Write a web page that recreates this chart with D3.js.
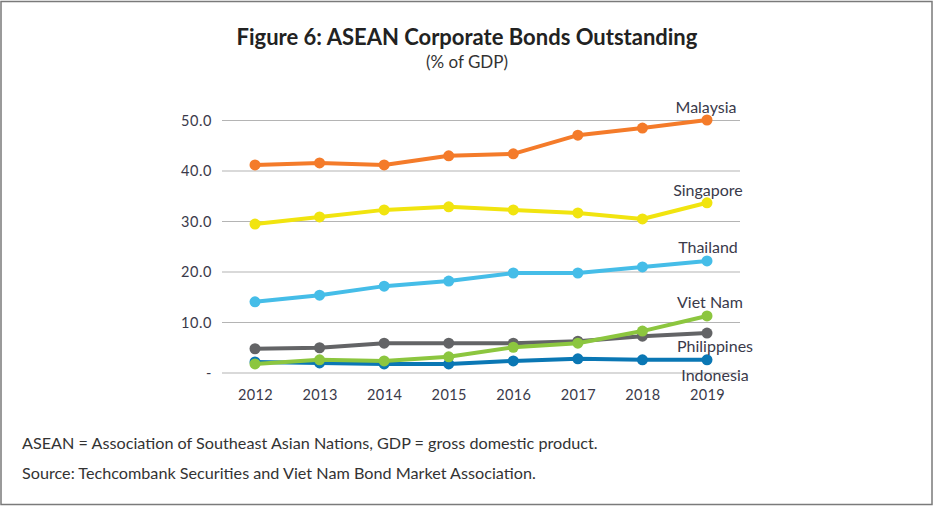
<!DOCTYPE html>
<html><head><meta charset="utf-8">
<script src="https://cdn.jsdelivr.net/npm/d3@7"></script>
<style>body{margin:0;background:#fff;} text{font-family:Lato,"Open Sans",sans-serif;}</style>
</head><body>
<svg id="c" width="935" height="507"></svg>
<script>
const years = ["2012","2013","2014","2015","2016","2017","2018","2019"];
const yTicks = [0,10,20,30,40,50];
const yTickLabels = ["-","10.0","20.0","30.0","40.0","50.0"];
const indonesia   = [2.2,2.0,1.8,1.8,2.4,2.8,2.6,2.6];
const philippines = [4.8,5.0,5.9,5.9,5.9,6.3,7.3,7.9];
const vietnam     = [1.8,2.6,2.4,3.2,5.1,5.9,8.3,11.3];
const thailand    = [14.1,15.4,17.2,18.2,19.8,19.8,21.0,22.2];
const singapore   = [29.5,30.9,32.3,32.9,32.3,31.7,30.5,33.7];
const malaysia    = [41.2,41.6,41.2,43.0,43.4,47.1,48.5,50.1];
const seriesNames = ["Indonesia","Philippines","Viet Nam","Thailand","Singapore","Malaysia"];
const seriesData = [indonesia,philippines,vietnam,thailand,singapore,malaysia];
const colors = ["#0a77b4","#636466","#8cc63f","#45bde8","#f1e40f","#f47b2a"];

const svg = d3.select("#c");
svg.append("rect").attr("x",1).attr("y",1.5).attr("width",931).attr("height",503)
  .attr("fill","none").attr("stroke","#7a7a7a").attr("stroke-width",1.5);

const x = d3.scalePoint().domain(years).range([255,707]);
const y = d3.scaleLinear().domain([0,50]).range([373,120.5]);

// grid
const yAxis = d3.axisLeft(y).tickValues(yTicks).tickFormat((d,i)=>yTickLabels[i]).tickSize(0).tickPadding(10);
const gy = svg.append("g").attr("transform","translate(222,0)").call(yAxis);
gy.select(".domain").remove();
gy.selectAll("text").attr("font-size",14.5).attr("letter-spacing",0.6).attr("fill","#3a3a4a");
svg.append("g").selectAll("line").data(yTicks).join("line")
  .attr("x1",222).attr("x2",740).attr("y1",d=>y(d)).attr("y2",d=>y(d))
  .attr("stroke","#b4b4b4").attr("stroke-width",1.2);

const xAxis = d3.axisBottom(x).tickSize(0).tickPadding(0);
const gx = svg.append("g").attr("transform","translate(0,390)").call(xAxis);
gx.select(".domain").remove();
gx.selectAll("text").attr("font-size",14.5).attr("letter-spacing",0.4).attr("fill","#3a3a4a").attr("dy","0.71em");

const line = d3.line().x((d,i)=>x(years[i])).y(d=>y(d));
seriesData.forEach((s,k)=>{
  const g = svg.append("g");
  g.append("path").attr("d",line(s)).attr("fill","none").attr("stroke",colors[k]).attr("stroke-width",4).attr("stroke-linejoin","round");
  g.selectAll("circle").data(s).join("circle").attr("cx",(d,i)=>x(years[i])).attr("cy",d=>y(d)).attr("r",5.5).attr("fill",colors[k]);
});

const labelPos = {"Malaysia":[706,113],"Singapore":[708,196],"Thailand":[708,253],"Viet Nam":[710,308],"Philippines":[715,352],"Indonesia":[715,381]};
seriesNames.forEach(n=>{
  svg.append("text").attr("x",labelPos[n][0]).attr("y",labelPos[n][1]).attr("text-anchor","middle")
    .attr("font-size",16).attr("fill","#3a3a4a").text(n);
});

svg.append("text").attr("x",467).attr("y",45).attr("text-anchor","middle").attr("font-size",22).attr("font-weight","bold").attr("fill","#222").text("Figure 6: ASEAN Corporate Bonds Outstanding");
svg.append("text").attr("x",467).attr("y",68).attr("text-anchor","middle").attr("font-size",17).attr("fill","#333").text("(% of GDP)");
svg.append("text").attr("x",22).attr("y",449).attr("font-size",16.2).attr("fill","#333").text("ASEAN = Association of Southeast Asian Nations, GDP = gross domestic product.");
svg.append("text").attr("x",22).attr("y",479).attr("font-size",16.2).attr("fill","#333").text("Source: Techcombank Securities and Viet Nam Bond Market Association.");
</script>
</body></html>
